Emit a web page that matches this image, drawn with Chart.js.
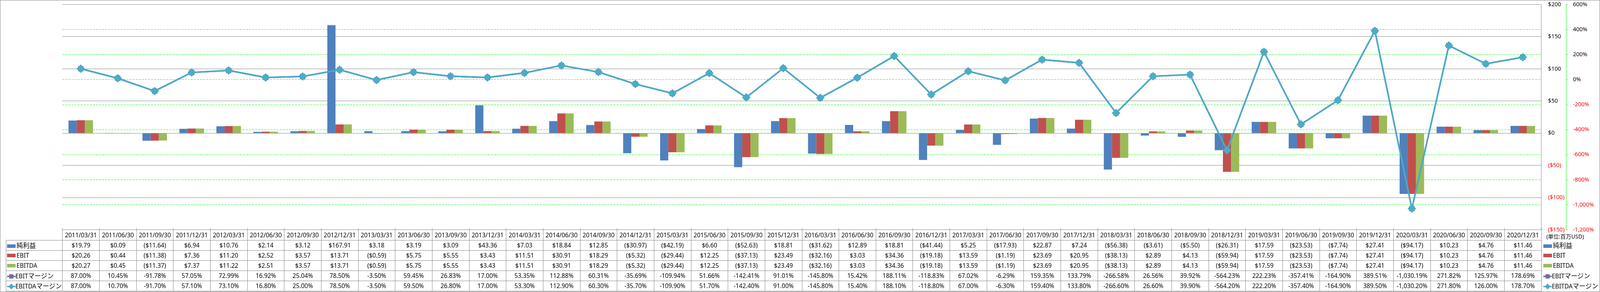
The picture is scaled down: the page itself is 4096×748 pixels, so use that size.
<!DOCTYPE html>
<html lang="ja">
<head>
<meta charset="utf-8">
<title>純利益・EBIT・EBITDA</title>
<script src="https://cdn.jsdelivr.net/npm/chart.js@4.4.1/dist/chart.umd.min.js"></script>
<style>
  html, body { margin: 0; padding: 0; background: #fff; }
  #frame { position: relative; width: 4096px; height: 748px; overflow: hidden; font-family: "Noto Sans", "Noto Sans CJK JP", sans-serif; }
  #chart { position: absolute; left: 0; top: 0; }
  #border { position: absolute; left: 0; top: 0; right: 0; bottom: 0; border: 1px solid #868686; pointer-events: none; }
  #dataTable { position: absolute; border-collapse: collapse; table-layout: fixed; font-size: 15.4px; color: #000; }
  #dataTable td { border: 1px solid #868686; padding: 0; text-align: center; white-space: nowrap; overflow: visible; }
  #dataTable td.blank { border-top: none; border-left: none; }
  #dataTable td.side { border-top: none; border-right: none; border-bottom: none; text-align: left; padding-left: 4.4px; }
  #dataTable td.rowlabel { text-align: left; padding-left: 2px; }
  #dataTable td.unit { font-size: 14px; padding-left: 12px; vertical-align: bottom; padding-bottom: 1px; }
  .sw { display: inline-block; width: 21.8px; height: 8.7px; margin-right: 2.6px; vertical-align: middle; position: relative; top: -1px; }
  .sym { display: inline-block; vertical-align: middle; margin-right: 0; position: relative; top: -1px; }
  .jp { font-size: 16.5px; }
</style>
</head>
<body>
<div id="frame">
  <canvas id="chart" width="4096" height="748"></canvas>
  <table id="dataTable"></table>
  <div id="border"></div>
</div>
<script>
// quarters
const dates = ['2011/03/31','2011/06/30','2011/09/30','2011/12/31','2012/03/31','2012/06/30','2012/09/30','2012/12/31',
  '2013/03/31','2013/06/30','2013/09/30','2013/12/31','2014/03/31','2014/06/30','2014/09/30','2014/12/31',
  '2015/03/31','2015/06/30','2015/09/30','2015/12/31','2016/03/31','2016/06/30','2016/09/30','2016/12/31',
  '2017/03/31','2017/06/30','2017/09/30','2017/12/31','2018/03/31','2018/06/30','2018/09/30','2018/12/31',
  '2019/03/31','2019/06/30','2019/09/30','2019/12/31','2020/03/31','2020/06/30','2020/09/30','2020/12/31'];

// 百万USD
const netIncome = [19.79, 0.09, -11.64, 6.94, 10.76, 2.14, 3.12, 167.91, 3.18, 3.19, 3.09, 43.36, 7.03, 18.84, 12.85, -30.97,
  -42.19, 6.60, -52.63, 18.81, -31.62, 12.89, 18.81, -41.44, 5.25, -17.93, 22.87, 7.24, -56.38, -3.61, -5.50, -26.31,
  17.59, -23.53, -7.74, 27.41, -94.17, 10.23, 4.76, 11.46];
const ebit = [20.26, 0.44, -11.38, 7.36, 11.20, 2.52, 3.57, 13.71, -0.59, 5.75, 5.55, 3.43, 11.51, 30.91, 18.29, -5.32,
  -29.44, 12.25, -37.13, 23.49, -32.16, 3.03, 34.36, -19.18, 13.59, -1.19, 23.69, 20.95, -38.13, 2.89, 4.13, -59.94,
  17.59, -23.53, -7.74, 27.41, -94.17, 10.23, 4.76, 11.46];
const ebitda = [20.27, 0.45, -11.37, 7.37, 11.22, 2.51, 3.57, 13.71, -0.59, 5.75, 5.55, 3.43, 11.51, 30.91, 18.29, -5.32,
  -29.44, 12.25, -37.13, 23.49, -32.16, 3.03, 34.36, -19.18, 13.59, -1.19, 23.69, 20.95, -38.13, 2.89, 4.13, -59.94,
  17.59, -23.53, -7.74, 27.41, -94.17, 10.23, 4.76, 11.46];

// %
const ebitMargin = [87.00, 10.45, -91.78, 57.05, 72.99, 16.92, 25.04, 78.50, -3.50, 59.45, 26.83, 17.00, 53.35, 112.88, 60.31, -35.69,
  -109.94, 51.66, -142.41, 91.01, -145.80, 15.42, 188.11, -118.83, 67.02, -6.29, 159.35, 133.79, -266.58, 26.56, 39.92, -564.23,
  222.23, -357.41, -164.90, 389.51, -1030.19, 271.82, 125.97, 178.69];
const ebitdaMargin = [87.00, 10.70, -91.70, 57.10, 73.10, 16.80, 25.00, 78.50, -3.50, 59.50, 26.80, 17.00, 53.30, 112.90, 60.30, -35.70,
  -109.90, 51.70, -142.40, 91.00, -145.80, 15.40, 188.10, -118.80, 67.00, -6.30, 159.40, 133.80, -266.60, 26.60, 39.90, -564.20,
  222.20, -357.40, -164.90, 389.50, -1030.20, 271.80, 126.00, 178.70];

// axis ranges
const usdMin = -150, usdMax = 200, usdStep = 50;
const pctMin = -1200, pctMax = 600, pctStep = 200;

const BLUE = '#4F81BD', RED = '#C0504D', GREEN = '#9BBB59', PURPLE = '#8064A2', TEAL = '#4BACC6';
const GRAY = '#868686', DASHGREEN = '#00FF00';
const S = 0.871;

const fmtUsd = v => v < 0 ? '($' + Math.abs(v).toFixed(2) + ')' : '$' + v.toFixed(2);
const fmtPct = v => v.toLocaleString('en-US', { minimumFractionDigits: 2, maximumFractionDigits: 2 }) + '%';
const negRed = ctx => (ctx.tick && ctx.tick.value < 0) ? '#FF0000' : '#000000';

// fixed axis width; no extra vertical padding so the plot keeps its top edge
const fixWidth = w => s => { s.width = w; s.paddingTop = 0; s.paddingBottom = 0; };

// small tick marks at category boundaries, pointing up
const categoryTicks = {
  id: 'categoryTicks',
  afterDatasetsDraw(chart) {
    const { ctx, chartArea, scales: { x } } = chart;
    const step = x.getPixelForValue(1) - x.getPixelForValue(0);
    ctx.save();
    ctx.strokeStyle = GRAY;
    ctx.lineWidth = 1;
    ctx.beginPath();
    for (let i = 0; i <= dates.length; i++) {
      const px = Math.round(x.getPixelForValue(0) - step / 2 + i * step) + 0.5;
      ctx.moveTo(px, chartArea.bottom);
      ctx.lineTo(px, chartArea.bottom - 5 * S);
    }
    ctx.stroke();
    ctx.restore();
  }
};

const barSet = (label, data, color) => ({
  type: 'bar', label, data, yAxisID: 'y', order: 2,
  backgroundColor: color, borderWidth: 0,
  categoryPercentage: 0.662, barPercentage: 1.0
});

const chart = new Chart(document.getElementById('chart'), {
  data: {
    labels: dates,
    datasets: [
      barSet('純利益', netIncome, BLUE),
      barSet('EBIT', ebit, RED),
      barSet('EBITDA', ebitda, GREEN),
      {
        type: 'line', label: 'EBITマージン', data: ebitMargin, yAxisID: 'y1', order: 1,
        borderColor: PURPLE, backgroundColor: PURPLE, borderWidth: 4.5 * S, tension: 0,
        borderJoinStyle: 'round', borderCapStyle: 'round',
        pointStyle: 'rect', pointRadius: 11 * S, pointBackgroundColor: PURPLE, pointBorderColor: PURPLE, pointBorderWidth: 0
      },
      {
        type: 'line', label: 'EBITDAマージン', data: ebitdaMargin, yAxisID: 'y1', order: 0,
        borderColor: TEAL, backgroundColor: TEAL, borderWidth: 4.5 * S, tension: 0,
        borderJoinStyle: 'round', borderCapStyle: 'round',
        pointStyle: 'rectRot', pointRadius: 12 * S, pointBackgroundColor: TEAL, pointBorderColor: TEAL, pointBorderWidth: 1
      }
    ]
  },
  options: {
    responsive: false,
    animation: false,
    devicePixelRatio: 1,
    layout: { padding: { left: 183 * S, top: 13 * S, bottom: 748 - 676 * S, right: 1.4 } },
    plugins: { legend: { display: false }, tooltip: { enabled: false } },
    scales: {
      x: { type: 'category', display: false, offset: true },
      y: {
        position: 'right', weight: 0,
        min: usdMin, max: usdMax,
        afterFit: fixWidth(73 * S),
        ticks: {
          stepSize: usdStep, padding: 20 * S, color: negRed,
          font: { family: 'Noto Sans', size: 16.7 * S },
          callback: v => v < 0 ? '($' + Math.abs(v) + ')' : '$' + v
        },
        grid: { color: GRAY, lineWidth: 1, drawTicks: false },
        border: { display: true, color: GRAY, width: 1 }
      },
      y1: {
        position: 'right', weight: 1,
        min: pctMin, max: pctMax,
        afterFit: fixWidth(4701 * S - 4603 * S),
        ticks: {
          stepSize: pctStep, padding: 15 * S, color: negRed,
          font: { family: 'Noto Sans', size: 16.7 * S },
          callback: v => v.toLocaleString('en-US') + '%'
        },
        grid: {
          color: ctx => (ctx.tick && (ctx.tick.value === pctMin || ctx.tick.value === pctMax)) ? 'rgba(0,0,0,0)' : DASHGREEN,
          lineWidth: 1, borderDash: [6 * S, 3 * S],
          drawTicks: true, tickLength: 5 * S, tickColor: DASHGREEN, tickWidth: 1
        },
        border: { display: true, color: DASHGREEN, width: 1, dash: [6 * S, 3 * S] }
      }
    }
  },
  plugins: [categoryTicks]
});

// data table under the plot, columns follow the category scale
function barSwatch(color) {
  return `<span class="sw" style="background:${color}"></span>`;
}
function lineSwatch(color, shape) {
  const w = 25 * S, h = 16;
  const mark = shape === 'rect'
    ? `<rect x="${w / 2 - 5.5}" y="${h / 2 - 5.5}" width="11" height="11" rx="1.5" fill="${color}"/>`
    : `<polygon points="${w / 2},${h / 2 - 7.5} ${w / 2 + 7.5},${h / 2} ${w / 2},${h / 2 + 7.5} ${w / 2 - 7.5},${h / 2}" fill="${color}"/>`;
  return `<svg class="sym" width="${w}" height="${h}"><line x1="0" y1="${h / 2}" x2="${w}" y2="${h / 2}" stroke="${color}" stroke-width="3.5"/>${mark}</svg>`;
}
const jp = t => t.replace(/([^\x00-\x7F]+)/g, '<span class="jp">$1</span>');

function buildTable() {
  const area = chart.chartArea;
  const tableLeft = 17 * S;
  const labelW = area.left - tableLeft;
  const colW = (area.right - area.left) / dates.length;
  const sideW = 148;
  const rows = [
    { label: '純利益', sym: barSwatch(BLUE), vals: netIncome.map(fmtUsd) },
    { label: 'EBIT', sym: barSwatch(RED), vals: ebit.map(fmtUsd) },
    { label: 'EBITDA', sym: barSwatch(GREEN), vals: ebitda.map(fmtUsd) },
    { label: 'EBITマージン', sym: lineSwatch(PURPLE, 'rect'), vals: ebitMargin.map(fmtPct) },
    { label: 'EBITDAマージン', sym: lineSwatch(TEAL, 'diamond'), vals: ebitdaMargin.map(fmtPct) }
  ];
  const table = document.getElementById('dataTable');
  table.style.left = tableLeft + 'px';
  table.style.top = (area.bottom - 0.5) + 'px';
  table.style.width = (labelW + colW * dates.length + sideW) + 'px';

  let html = `<colgroup><col style="width:${labelW}px">`;
  dates.forEach(() => { html += `<col style="width:${colW}px">`; });
  html += `<col style="width:${sideW}px"></colgroup>`;

  html += `<tr style="height:${30.7 * S}px"><td class="blank"></td>`;
  dates.forEach(d => { html += `<td>${d}</td>`; });
  html += `<td class="side unit">(単位:百万USD)</td></tr>`;

  rows.forEach(r => {
    html += `<tr style="height:${29.8 * S}px"><td class="rowlabel">${r.sym}${jp(r.label)}</td>`;
    r.vals.forEach(v => { html += `<td>${v}</td>`; });
    html += `<td class="side">${r.sym}${jp(r.label)}</td></tr>`;
  });
  table.innerHTML = html;
}
buildTable();
</script>
</body>
</html>
